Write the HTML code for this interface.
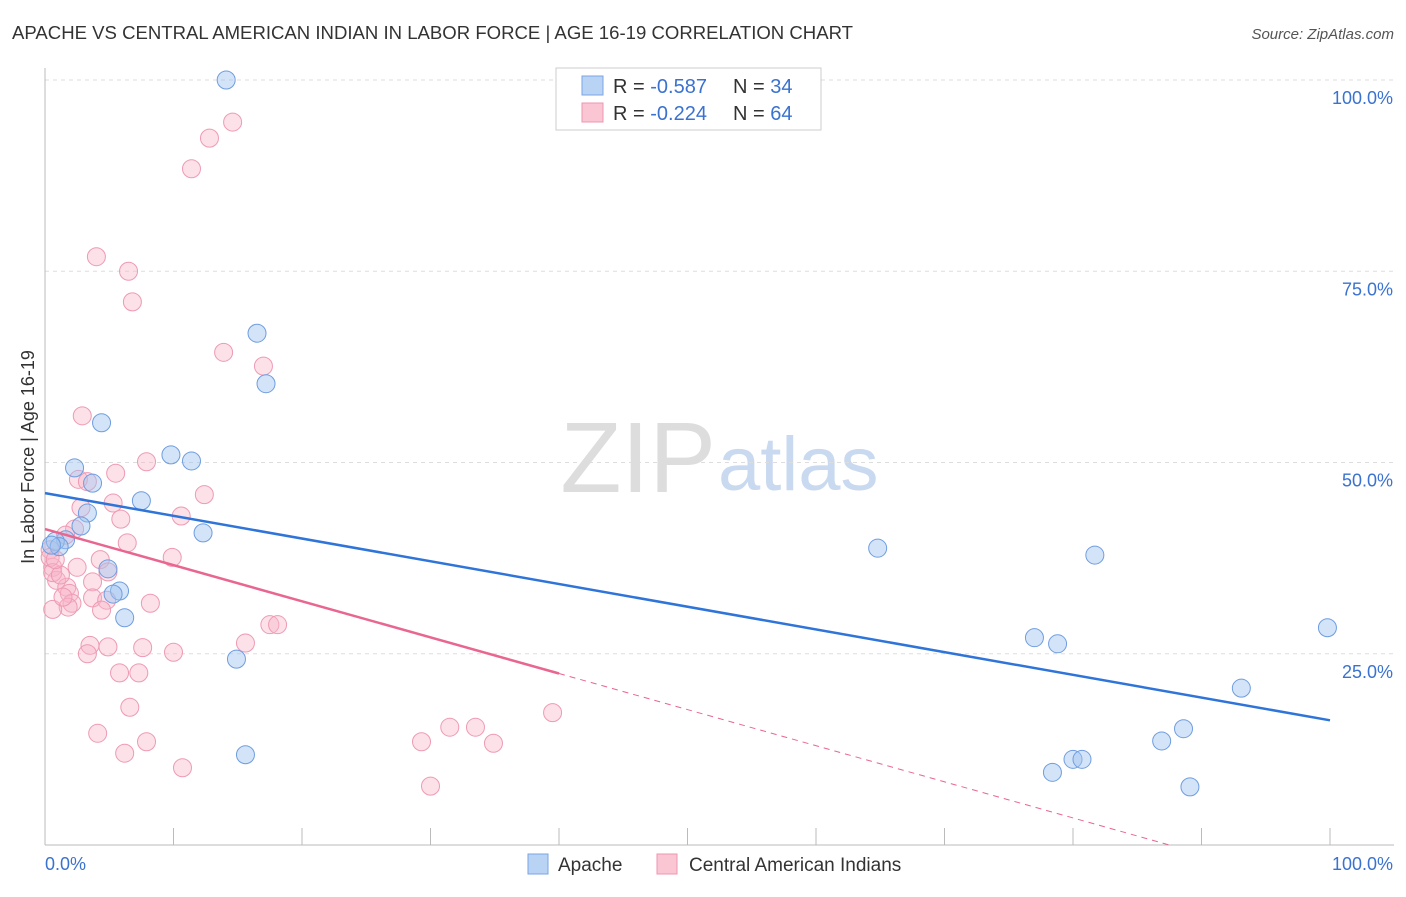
<!DOCTYPE html>
<html><head><meta charset="utf-8"><style>
body{margin:0;background:#fff;font-family:"Liberation Sans",sans-serif;}
svg text{font-family:"Liberation Sans",sans-serif;}
</style></head><body>
<svg id="chart" width="1406" height="892">
<text x="12" y="39" font-size="18" fill="#333" textLength="841" lengthAdjust="spacingAndGlyphs">APACHE VS CENTRAL AMERICAN INDIAN IN LABOR FORCE | AGE 16-19 CORRELATION CHART</text>
<text x="1394" y="39" font-size="15" fill="#555" font-style="italic" text-anchor="end">Source: ZipAtlas.com</text>
<text x="716" y="492" font-size="100" fill="#ddd" text-anchor="end" font-family="Liberation Serif">ZIP</text>
<text x="718" y="490" font-size="76" fill="#c9d9f0">atlas</text>
<g id="grid"></g>
<g id="axes"></g>
<g id="marks"></g>
<text transform="translate(34,457) rotate(-90)" font-size="18" fill="#333" text-anchor="middle">In Labor Force | Age 16-19</text>
<g>
<rect x="556" y="68" width="265" height="62" fill="#fff" stroke="#ccc"/>
<rect x="582" y="76" width="21" height="19" fill="#b9d3f5" stroke="#7aa6e2"/>
<rect x="582" y="103" width="21" height="19" fill="#fac6d4" stroke="#ee95b0"/>
<text x="613" y="93" font-size="20" fill="#333">R = <tspan fill="#3a72d0">-0.587</tspan><tspan x="733">N = </tspan><tspan fill="#3a72d0">34</tspan></text>
<text x="613" y="120" font-size="20" fill="#333">R = <tspan fill="#3a72d0">-0.224</tspan><tspan x="733">N = </tspan><tspan fill="#3a72d0">64</tspan></text>
</g>
<g>
<rect x="528" y="854" width="20" height="20" fill="#b9d3f5" stroke="#7aa6e2"/>
<text x="558" y="871" font-size="19" fill="#333">Apache</text>
<rect x="657" y="854" width="20" height="20" fill="#fac6d4" stroke="#ee95b0"/>
<text x="689" y="871" font-size="19" fill="#333">Central American Indians</text>
</g>
</svg>
<script>
const yTicks=[25,50,75,100];
const yTickLabels=["25.0%","50.0%","75.0%","100.0%"];
const xTicks=[0,10,20,30,40,50,60,70,80,90,100];
const apacheX=[14.1,16.5,17.2,4.4,2.3,9.8,11.4,3.7,7.5,3.3,2.8,12.3,1.6,0.8,1.1,4.9,5.8,5.3,6.2,14.9,15.6,64.8,81.7,77.0,78.8,99.8,93.1,88.6,86.9,80.0,80.7,78.4,89.1,0.5];
const apacheY=[100,66.9,60.3,55.2,49.3,51.0,50.2,47.3,45.0,43.4,41.7,40.8,39.9,39.7,39.0,36.1,33.2,32.8,29.7,24.3,11.8,38.8,37.9,27.1,26.3,28.4,20.5,15.2,13.6,11.2,11.2,9.5,7.6,39.2];
const camX=[2.9,7.9,5.5,2.6,3.3,12.4,5.3,2.8,5.9,10.6,2.3,1.6,6.4,9.9,4.3,2.5,4.9,3.7,0.6,0.9,1.7,1.9,3.7,4.8,8.2,2.1,1.8,4.4,0.6,17.5,18.1,15.6,3.5,3.3,4.9,7.6,10.0,5.8,7.3,6.6,4.1,7.9,6.2,10.7,0.4,0.4,0.6,14.6,12.8,11.4,4.0,6.5,6.8,13.9,17.0,29.3,31.5,33.5,34.9,39.5,30.0,1.2,1.4,0.8];
const camY=[56.1,50.1,48.6,47.8,47.5,45.8,44.7,44.1,42.6,43.0,41.3,40.5,39.5,37.6,37.3,36.3,35.7,34.4,36.3,34.6,33.7,32.9,32.3,32.0,31.6,31.6,31.1,30.7,30.8,28.8,28.8,26.4,26.1,25.0,25.9,25.8,25.2,22.5,22.5,18.0,14.6,13.5,12.0,10.1,38.6,37.6,35.6,94.5,92.4,88.4,76.9,75.0,71.0,64.4,62.6,13.5,15.4,15.4,13.3,17.3,7.7,35.3,32.4,37.3];
const apacheTrend=[46.0,16.3];   // y at x=0 and x=100
const camTrend=[41.3,-0.472];    // intercept, slope
const camSolidEnd=40;
const NS="http://www.w3.org/2000/svg";
const X=v=>45+v*12.85, Y=v=>845-v*7.65;
function mk(p,t,a){const e=document.createElementNS(NS,t);for(const k in a)e.setAttribute(k,a[k]);p.appendChild(e);return e;}
const grid=document.getElementById('grid'),axes=document.getElementById('axes'),marks=document.getElementById('marks');
yTicks.forEach((t,i)=>{
 const l=mk(grid,'line',{x1:45,x2:1394,y1:Y(t),y2:Y(t),stroke:'#ddd','stroke-dasharray':'4,4'});
 
 
 const tx=mk(axes,'text',{x:1393,y:Y(t)+24,'font-size':18,fill:'#3a72d0','text-anchor':'end'});
 tx.textContent=yTickLabels[i];
 
 
});
const ax=mk(axes,'line',{x1:45,x2:1394,y1:845,y2:845,stroke:'#bbb'});


const ay=mk(axes,'line',{x1:45,x2:45,y1:68,y2:845,stroke:'#bbb'});


xTicks.forEach(t=>{const l=mk(axes,'line',{x1:X(t),x2:X(t),y1:828,y2:845,stroke:'#bbb'});
 
 });
const x0=mk(axes,'text',{x:45,y:870,'font-size':18,fill:'#3a72d0'});x0.textContent='0.0%';


const x1=mk(axes,'text',{x:1393,y:870,'font-size':18,fill:'#3a72d0','text-anchor':'end'});x1.textContent='100.0%';


camX.forEach((v,i)=>{const c=mk(marks,'circle',{cx:X(v),cy:Y(camY[i]),r:9,fill:'rgba(248,180,200,0.4)',stroke:'#ee9ab3','stroke-width':1});
 
 });
apacheX.forEach((v,i)=>{const c=mk(marks,'circle',{cx:X(v),cy:Y(apacheY[i]),r:9,fill:'rgba(160,196,240,0.45)',stroke:'#6e9de0','stroke-width':1});
 
 });
const bt=mk(marks,'line',{x1:X(0),y1:Y(apacheTrend[0]),x2:X(100),y2:Y(apacheTrend[1]),stroke:'#2f74d8','stroke-width':2.5});


const cy=x=>camTrend[0]+camTrend[1]*x;
const pt=mk(marks,'line',{x1:X(0),y1:Y(cy(0)),x2:X(camSolidEnd),y2:Y(cy(camSolidEnd)),stroke:'#e8668f','stroke-width':2.5});


const xEnd=-camTrend[0]/camTrend[1];
const pd=mk(marks,'line',{x1:X(camSolidEnd),y1:Y(cy(camSolidEnd)),x2:X(xEnd),y2:Y(0),stroke:'#e8668f','stroke-width':1,'stroke-dasharray':'6,5'});


</script>
</body></html>
